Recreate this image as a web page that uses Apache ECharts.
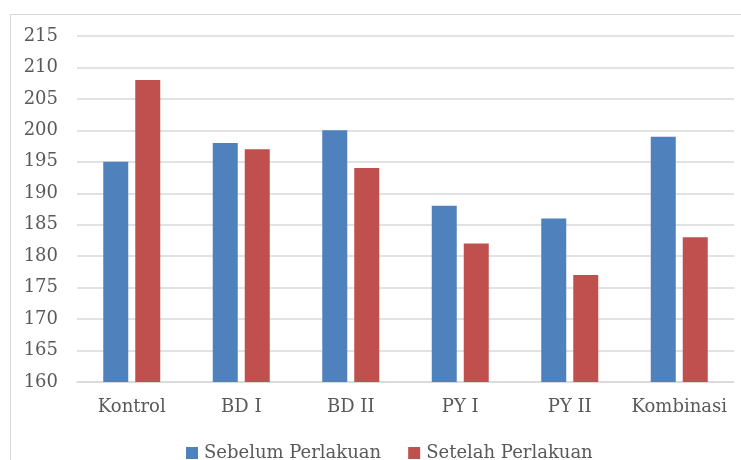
<!DOCTYPE html>
<html><head><meta charset="utf-8">
<script src="https://cdn.jsdelivr.net/npm/echarts@6/dist/echarts.min.js"></script>
<style>html,body{margin:0;padding:0;background:#fff}#c{width:741px;height:460px;position:relative}
#b{position:absolute;left:10px;top:14px;width:740px;height:460px;border:1px solid #d9d9d9;box-sizing:border-box;pointer-events:none}</style>
</head><body><div id="c"></div><div id="b"></div>
<script>
const categories = ['Kontrol','BD I','BD II','PY I','PY II','Kombinasi'];
const sebelum = [195, 198, 200, 188, 186, 199];
const setelah = [208, 197, 194, 182, 177, 183];
const seriesNames = ['Sebelum Perlakuan','Setelah Perlakuan'];
const font = 'DejaVu Serif';
const chart = echarts.init(document.getElementById('c'));
chart.setOption({
  animation:false,
  grid:{left:77,right:7,top:36,bottom:78},
  legend:{top:439,left:181,itemWidth:12,itemHeight:12,itemGap:27,icon:'rect',
    textStyle:{fontFamily:font,fontSize:18,color:'#595959',padding:[0,0,0,1]},
    data:seriesNames},
  xAxis:{type:'category',data:categories,
    axisLine:{lineStyle:{color:'#d9d9d9',width:1.5}},axisTick:{show:false},
    axisLabel:{fontFamily:font,fontSize:18,color:'#595959',margin:16,interval:0}},
  yAxis:{type:'value',min:160,max:215,interval:5,
    axisLine:{show:false},axisTick:{show:false},
    splitLine:{lineStyle:{color:'#d9d9d9',width:1.5}},
    axisLabel:{fontFamily:font,fontSize:18,color:'#595959',margin:19}},
  series:[
    {name:seriesNames[0],type:'bar',data:sebelum,barWidth:25,barGap:'28%',itemStyle:{color:'#4F81BD'}},
    {name:seriesNames[1],type:'bar',data:setelah,barWidth:25,itemStyle:{color:'#C0504D'}}
  ]
});
</script></body></html>
